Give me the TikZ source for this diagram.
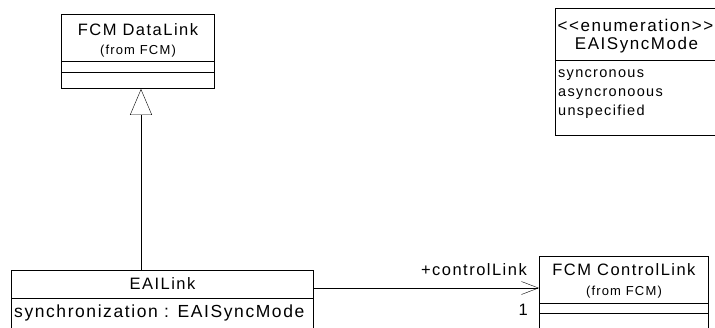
\documentclass[tikz,border=0pt]{standalone}
\usepackage{fontspec}
\setmainfont{Liberation Sans}[LetterSpace=9, Ligatures=TeXOff]
\usetikzlibrary{calc,arrows.meta}

\tikzset{
  cls/.style={draw, line width=0.9pt, anchor=north west, inner sep=0pt},
  ttl/.style={font=\fontsize{16.5}{18}\selectfont, inner sep=0pt},
  enumttl/.style={font=\fontsize{17}{19}\selectfont, inner sep=0pt},
  frm/.style={font=\fontsize{13}{15}\selectfont, inner sep=0pt},
  attr/.style={font=\fontsize{17.5}{19}\selectfont, anchor=west, inner sep=0pt},
  enumval/.style={font=\fontsize{14.5}{16}\selectfont, anchor=west, inner sep=0pt},
}

\begin{document}
\begin{tikzpicture}[x=1pt,y=-1pt]
  \useasboundingbox (0,0) rectangle (715,327);
  % class boxes
  \node (datalink) [cls, minimum width=153pt, minimum height=74pt] at (61,14) {};
  \node (syncmode) [cls, minimum width=162pt, minimum height=127pt] at (555,8) {};
  \node (eailink) [cls, minimum width=302pt, minimum height=70pt] at (11,270) {};
  \node (controllink) [cls, minimum width=169pt, minimum height=84pt] at (539,256) {};
  % compartments
  \draw ([yshift=-47pt]datalink.north west) -- ([yshift=-47pt]datalink.north east);
  \draw ([yshift=-58pt]datalink.north west) -- ([yshift=-58pt]datalink.north east);
  \draw ([yshift=-52pt]syncmode.north west) -- ([yshift=-52pt]syncmode.north east);
  \draw ([yshift=-28pt]eailink.north west) -- ([yshift=-28pt]eailink.north east);
  \draw ([yshift=-47pt]controllink.north west) -- ([yshift=-47pt]controllink.north east);
  \draw ([yshift=-57pt]controllink.north west) -- ([yshift=-57pt]controllink.north east);
  % names
  \node (datalinkname) [ttl] at ($(datalink.north)+(0,16)$) {FCM DataLink};
  \node (datalinkfrom) [frm] at ($(datalink.north)+(0,37)$) {(from FCM)};
  \node (syncmodestereo) [enumttl] at ($(syncmode.north)+(-1,17)$) {<<enumeration>>};
  \node (syncmodename) [enumttl] at ($(syncmode.north)+(0,37)$) {EAISyncMode};
  \node (syncmodeval1) [enumval] at ($(syncmode.north west)+(3,67)$) {syncronous};
  \node (syncmodeval2) [enumval] at ($(syncmode.north west)+(3,86)$) {asyncronoous};
  \node (syncmodeval3) [enumval] at ($(syncmode.north west)+(3,104)$) {unspecified};
  \node (eailinkname) [ttl] at ($(eailink.north)+(0,14)$) {EAILink};
  \node (eailinkattr) [attr] at ($(eailink.north west)+(3,43)$) {synchronization : EAISyncMode};
  \node (controllinkname) [ttl] at ($(controllink.north)+(0,14)$) {FCM ControlLink};
  \node (controllinkfrom) [frm] at ($(controllink.north)+(0,36)$) {(from FCM)};
  % generalization
  \draw[-{Triangle[open, length=26pt, width=22pt]}] (eailink.north -| 141,0) -- (datalink.south -| 141,0);
  % association
  \draw[-{Straight Barb[length=17pt, width=13pt]}] ([yshift=-18pt]eailink.north east) -- ([yshift=-32pt]controllink.north west);
  \node (rolename) [ttl, anchor=east] at ($(controllink.north west)+(-12,14)$) {+controlLink};
  \node (multiplicity) [ttl, anchor=east] at ($(controllink.north west)+(-11,54)$) {1};
\end{tikzpicture}
\end{document}
